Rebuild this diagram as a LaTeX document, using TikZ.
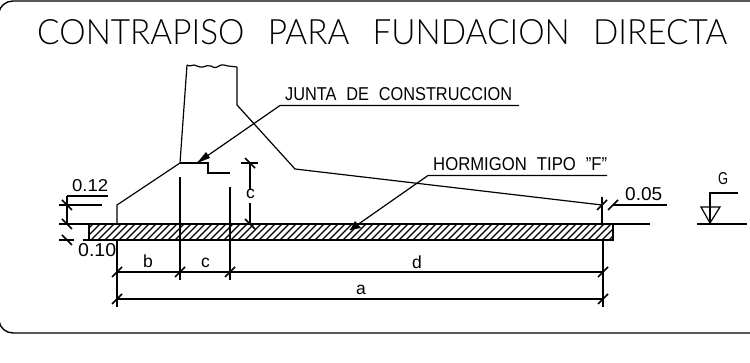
\documentclass[tikz,border=0pt]{standalone}
\usepackage{fontspec}
\usepackage{graphicx}
\setmainfont{Liberation Sans}
\newfontfamily\lightfont{Lato Light}
\tikzset{
 cad/.style={line width=1.2pt,black},
 frameline/.style={line width=1.4pt,black},
 tick/.style={line width=1.7pt,black},
 hatchline/.style={line width=1.2pt,black},
 lbl/.style={inner sep=0pt,anchor=south west,black},
 letter/.style={inner sep=0pt,anchor=base west,black,font=\fontsize{17.5}{17.5}\selectfont},
}
\newcommand{\tk}[2]{\draw[tick] (#1-5,#2+5) -- (#1+5,#2-5);}
\newcommand{\tkb}[2]{\draw[tick] (#1-5,#2-5) -- (#1+5,#2+5);}
\newcommand{\fit}[3]{\resizebox{#1pt}{#2pt}{#3}}
\begin{document}
\begin{tikzpicture}[x=1pt,y=-1pt]
\useasboundingbox (0,0) rectangle (750,363);
% frame
\draw[frameline] (750,1) -- (13,1) .. controls (6,1) and (0,6) .. (-1,12) -- (-1,321)
   .. controls (0,328) and (6,333) .. (13,333) -- (750,333);
% title
\node[lbl] (title) at (37,45) {\fit{690}{25}{\lightfont CONTRAPISO\hspace{0.7em}PARA\hspace{0.7em}FUNDACION\hspace{0.7em}DIRECTA}};
% column and footing
\draw[cad] (117,224) -- (117,205) -- (180,163) -- (187,65);
\draw[cad] (187,65) .. controls (190,67) and (192,65) .. (194,65) .. controls (197,65) and (199,68) .. (203,67)
  .. controls (206,66) and (208,65) .. (211,66) .. controls (214,68) and (216,68) .. (219,66)
  .. controls (222,64) and (225,65) .. (228,66) .. controls (231,67) and (234,66) .. (237,67);
\draw[cad] (237,67) -- (237,105) -- (295,169) -- (602,205);
\draw[cad] (180,163) -- (208,163) -- (208,173) -- (230,173);
% slab hatch
\begin{scope}
\clip (89,224) rectangle (613,240);
\foreach \x in {70,77,...,640} {\draw[hatchline] (\x,240) -- (\x+16,224);}
\end{scope}
\draw[cad] (89,224) rectangle (613,240);
\draw[cad] (59,224) -- (89,224);
\draw[cad] (613,224) -- (650,224);
\draw[cad] (83,240) -- (117,240);
\draw[cad] (59,240) -- (74,240);
% extension lines
\draw[cad] (117,240) -- (117,307);
\draw[cad] (180,177) -- (180,280);
\draw[cad] (230,187) -- (230,280);
\draw[cad] (602,197) -- (602,224);
\draw[cad] (603,240) -- (603,307);
% horizontal dimensions
\draw[cad] (117,272) -- (603,272);
\draw[cad] (117,299) -- (603,299);
\foreach \x in {117,180,230,603} {\tk{\x}{272}}
\foreach \x in {117,603} {\tk{\x}{299}}
\node[letter] (b) at (143,268) {b};
\node[letter] (c1) at (201,268) {c};
\node[letter] (d) at (412,269) {d};
\node[letter] (a) at (356,295) {a};
% left dimensions
\draw[cad] (67,196) -- (67,224);
\draw[cad] (67,196) -- (108,196);
\draw[cad] (59,205) -- (102,205);
\tkb{67}{205}\tkb{67}{224}\tkb{67}{240}
\node[lbl] (v12) at (72,192) {\fit{36}{12}{0.12}};
\node[lbl] (v10) at (78,257) {\fit{38}{13}{0.10}};
% c vertical dimension
\draw[cad] (241,163) -- (258,163);
\draw[cad] (250,163) -- (250,190);
\draw[cad] (250,203) -- (250,224);
\tkb{250}{163}\tkb{250}{224}
\node[letter] (c2) at (246,199) {c};
% right dimension 0.05
\draw[cad] (613,205) -- (667,205);
\tk{602}{205}\tk{613}{205}
\node[lbl] (v05) at (625,201) {\fit{37}{13}{0.05}};
% level mark
\draw[cad] (697,224) -- (747,224);
\draw[cad] (701,207) -- (720,207) -- (710,223) -- cycle;
\draw[cad] (710,223) -- (710,193) -- (738,193);
\node[lbl] (G) at (718,185) {\fit{10}{12}{G}};
% leaders
\node[lbl] (junta) at (285,101) {\fit{227}{13}{JUNTA\hspace{0.6em}DE\hspace{0.6em}CONSTRUCCION}};
\draw[cad] (519,105.5) -- (280,105.5) -- (197,163);
\fill (197,163) -- (206,152) -- (210,158) -- cycle;
\node[lbl] (horm) at (433,171) {\fit{174}{13}{HORMIGON\hspace{0.6em}TIPO\hspace{0.6em}"F"}};
\draw[cad] (607,175.5) -- (428,175.5) -- (350,230);
\fill (350,230) -- (355,221) -- (361,228) -- cycle;
\end{tikzpicture}
\end{document}
